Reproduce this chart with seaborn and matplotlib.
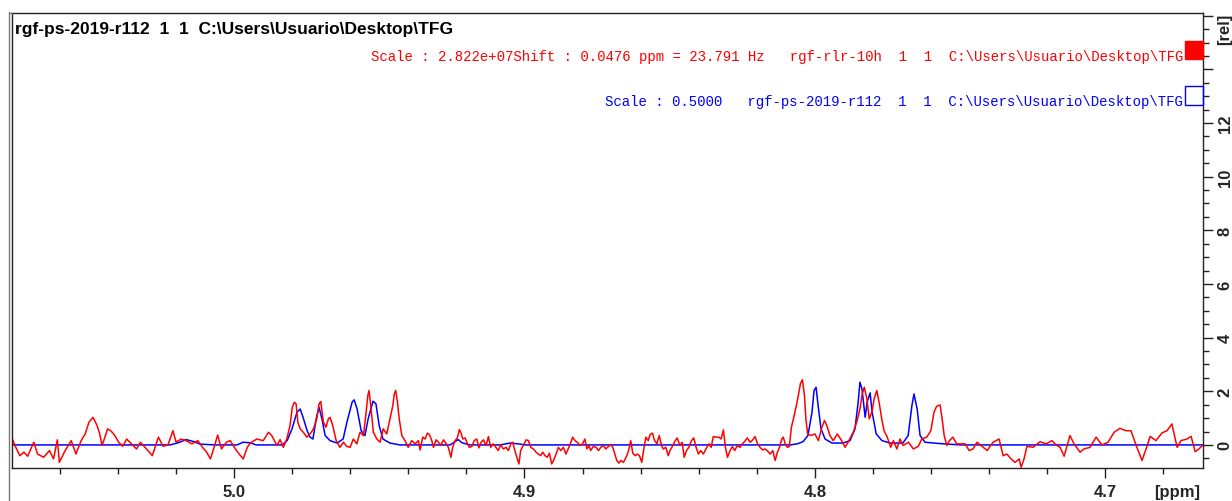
import numpy as np
import matplotlib
matplotlib.use("Agg")
import matplotlib.pyplot as plt
from matplotlib.lines import Line2D
from matplotlib.patches import Rectangle
import seaborn as sns

# ---- spectrum data (chemical shift in ppm, relative intensity) ----
# red trace, 5.08 -> 4.94 ppm
red_ppm_a = [
    5.0764, 5.0751, 5.0737, 5.0723, 5.0710, 5.0689, 5.0676, 5.0655, 5.0635, 5.0621,
    5.0608, 5.0601, 5.0581, 5.0560, 5.0544, 5.0526, 5.0512, 5.0499, 5.0485, 5.0471,
    5.0462, 5.0454, 5.0444, 5.0435, 5.0424, 5.0410, 5.0397, 5.0383, 5.0369, 5.0353,
    5.0335, 5.0322, 5.0301, 5.0281, 5.0260, 5.0244, 5.0227, 5.0210, 5.0199, 5.0182,
    5.0165, 5.0145, 5.0124, 5.0108, 5.0094, 5.0081, 5.0070, 5.0056, 5.0043, 5.0026,
    5.0013, 4.9995, 4.9982, 4.9968, 4.9954,
    4.9944, 4.9921, 4.9899, 4.9881, 4.9870, 4.9852, 4.9841, 4.9830, 4.9818, 4.9807,
    4.9799, 4.9792, 4.9786, 4.9780, 4.9772, 4.9761, 4.9749, 4.9738, 4.9726, 4.9715,
    4.9707, 4.9701, 4.9692, 4.9683, 4.9675, 4.9669, 4.9660, 4.9648, 4.9635, 4.9623,
    4.9612, 4.9600, 4.9589, 4.9577, 4.9566, 4.9554, 4.9545, 4.9539, 4.9535, 4.9529,
    4.9520, 4.9508, 4.9497, 4.9486, 4.9474, 4.9463, 4.9453, 4.9448, 4.9443, 4.9437,
    4.9431, 4.9422, 4.9411, 4.9400, 4.9388, 4.9376, 4.9365,
]
red_int_a = [
    0.25, -0.09, -0.40, -0.27, -0.42, 0.10, -0.34, -0.46, -0.21, -0.52,
    0.19, -0.65, -0.21, 0.16, -0.34, 0.16, 0.41, 0.85, 1.03, 0.72,
    0.41, -0.02, 0.29, 0.60, 0.53, 0.35, 0.10, -0.05, 0.22, 0.04,
    -0.15, 0.10, -0.15, -0.40, 0.29, -0.05, 0.00, 0.53, 0.10, 0.22,
    0.16, 0.04, 0.16, -0.09, -0.27, -0.52, -0.15, 0.37, -0.15, 0.10,
    0.16, -0.15, -0.34, -0.52, -0.09,
    0.07, 0.22, 0.16, 0.47, 0.35, -0.02, 0.20, -0.09, 0.22, 0.72,
    1.41, 1.59, 1.53, 0.85, 0.60, 0.47, 0.29, 0.41, 0.60, 0.97,
    1.53, 1.62, 0.85, 0.66, 0.97, 1.03, 0.72, 0.16, -0.09, 0.10,
    -0.05, -0.09, 0.22, 0.04, 0.47, 0.35, 1.22, 1.84, 2.03, 1.47,
    0.47, 0.22, 0.10, 0.60, 0.41, 0.97, 1.47, 1.90, 2.03, 1.59,
    0.97, 0.35, 0.16, -0.09, 0.16, 0.04, 0.16,
]

# red trace, 4.94 -> 4.81 ppm (flat noisy stretch)
red_ppm_b = [
    4.9359, 4.9350, 4.9342, 4.9334, 4.9327, 4.9319, 4.9313, 4.9304, 4.9296, 4.9288,
    4.9279, 4.9270, 4.9262, 4.9253, 4.9247, 4.9239, 4.9231, 4.9224, 4.9219, 4.9212,
    4.9204, 4.9196, 4.9190, 4.9181, 4.9173, 4.9164, 4.9157, 4.9149, 4.9141, 4.9132,
    4.9124, 4.9116, 4.9107, 4.9098, 4.9090, 4.9081, 4.9073, 4.9063, 4.9055, 4.9047,
    4.9040, 4.9033, 4.9026, 4.9019, 4.9013, 4.9004, 4.8994, 4.8986, 4.8978, 4.8969,
    4.8960, 4.8952, 4.8944, 4.8937, 4.8929, 4.8921, 4.8914, 4.8906, 4.8900, 4.8891,
    4.8883, 4.8875, 4.8866, 4.8857, 4.8847, 4.8840, 4.8834, 4.8826, 4.8818, 4.8808,
    4.8800, 4.8792, 4.8785, 4.8778, 4.8772, 4.8763, 4.8753, 4.8745, 4.8737, 4.8728,
    4.8720, 4.8711, 4.8703, 4.8696, 4.8689, 4.8682, 4.8675, 4.8668, 4.8659, 4.8650,
    4.8642, 4.8634, 4.8627, 4.8619, 4.8611, 4.8604, 4.8596, 4.8590, 4.8582, 4.8574,
    4.8567, 4.8559, 4.8553, 4.8544, 4.8536, 4.8528, 4.8522, 4.8513, 4.8505, 4.8499,
    4.8491, 4.8482, 4.8474, 4.8465, 4.8457, 4.8450, 4.8442, 4.8434, 4.8425, 4.8417,
    4.8409, 4.8401, 4.8393, 4.8384, 4.8375, 4.8365, 4.8357, 4.8350, 4.8340, 4.8331,
    4.8323, 4.8315, 4.8308, 4.8301, 4.8292, 4.8284, 4.8276, 4.8267, 4.8258, 4.8250,
    4.8241, 4.8233, 4.8223, 4.8214, 4.8206, 4.8198, 4.8189, 4.8180, 4.8172, 4.8164,
    4.8154, 4.8145, 4.8137, 4.8129, 4.8122, 4.8114, 4.8109, 4.8102, 4.8095, 4.8088,
    4.8081,
]
red_int_b = [
    -0.19, 0.29, 0.22, 0.44, 0.39, 0.16, -0.09, 0.19, 0.10, -0.02,
    0.19, 0.06, -0.09, -0.46, -0.09, 0.16, 0.26, 0.57, 0.47, 0.22,
    0.26, 0.04, -0.09, -0.06, 0.16, 0.22, -0.11, 0.10, 0.19, -0.02,
    0.31, -0.09, 0.04, -0.09, -0.21, 0.01, -0.15, -0.09, -0.21, 0.04,
    0.10, -0.21, -0.46, -0.71, -0.21, -0.02, 0.19, 0.16, -0.09, -0.15,
    -0.27, -0.34, -0.40, -0.27, -0.40, -0.46, -0.31, -0.71, -0.58, -0.34,
    -0.09, -0.21, -0.09, -0.34, -0.09, 0.10, 0.29, 0.16, 0.10, -0.02,
    0.04, 0.22, -0.15, -0.02, -0.21, -0.06, -0.09, -0.21, -0.09, -0.02,
    -0.15, -0.06, 0.01, -0.09, -0.34, -0.58, -0.68, -0.58, -0.65, -0.46,
    -0.24, 0.16, -0.31, -0.40, -0.34, -0.40, -0.65, -0.21, 0.29, 0.16,
    0.39, 0.44, 0.19, 0.04, 0.35, -0.02, -0.15, -0.09, -0.40, -0.21,
    -0.06, 0.14, 0.26, -0.02, 0.10, -0.46, -0.21, -0.09, 0.16, 0.26,
    -0.09, -0.34, -0.21, -0.34, -0.15, 0.04, -0.09, 0.31, 0.29, 0.29,
    0.22, 0.56, -0.09, -0.46, -0.21, -0.06, -0.21, -0.02, -0.09, 0.04,
    0.14, 0.26, 0.10, 0.19, 0.31, 0.06, -0.09, -0.19, -0.15, -0.21,
    -0.34, -0.21, -0.58, -0.27, -0.09, 0.22, 0.29, 0.04, -0.09, -0.06,
    0.66,
]

# red trace, 4.81 -> 4.67 ppm
red_ppm_c = [
    4.8074, 4.8065,
    4.8057, 4.8050, 4.8043, 4.8036, 4.8031, 4.8025, 4.8014, 4.8000, 4.7988, 4.7976,
    4.7967, 4.7959, 4.7948, 4.7937, 4.7923, 4.7908, 4.7896, 4.7885, 4.7868, 4.7856,
    4.7845, 4.7837, 4.7830, 4.7821, 4.7813, 4.7804, 4.7796, 4.7787, 4.7779, 4.7770,
    4.7762, 4.7751, 4.7739, 4.7730, 4.7718, 4.7707, 4.7696, 4.7678, 4.7661, 4.7644,
    4.7632, 4.7615, 4.7601, 4.7590, 4.7581, 4.7569, 4.7562, 4.7555, 4.7546, 4.7537,
    4.7525, 4.7512,
    4.7483, 4.7469, 4.7456, 4.7442, 4.7428, 4.7407, 4.7387, 4.7366, 4.7352, 4.7339,
    4.7325, 4.7311, 4.7297, 4.7290, 4.7280, 4.7270, 4.7249, 4.7225, 4.7204, 4.7184,
    4.7170, 4.7156, 4.7142, 4.7122, 4.7108, 4.7087, 4.7074, 4.7053, 4.7032, 4.7012,
    4.6991, 4.6970, 4.6950, 4.6929, 4.6912, 4.6894, 4.6874, 4.6860, 4.6846, 4.6826,
    4.6805, 4.6788, 4.6771, 4.6753, 4.6740, 4.6719, 4.6705, 4.6691, 4.6678, 4.6664,
]
red_int_c = [
    0.97, 1.41,
    1.84, 2.28, 2.43, 1.84, 0.97, 0.41, 0.35, 0.41, 0.16, 0.66,
    0.91, 0.72, 0.35, 0.16, 0.41, 0.16, -0.09, 0.12, 0.47, 0.85,
    1.34, 1.90, 2.15, 1.72, 0.97, 1.22, 1.72, 2.03, 1.59, 0.97,
    0.53, 0.29, -0.09, 0.16, -0.15, 0.22, -0.02, 0.10, -0.15, -0.05,
    0.22, 0.29, 0.53, 1.22, 1.44, 1.49, 0.97, 0.35, -0.02, 0.16,
    0.29, 0.04,
    0.04, -0.21, -0.15, 0.10, -0.02, -0.21, 0.10, 0.22, -0.40, -0.34,
    -0.52, -0.65, -0.52, -0.83, -0.52, -0.05, -0.09, 0.12, 0.04, 0.16,
    0.00, -0.09, -0.42, 0.35, 0.04, -0.27, -0.15, -0.09, 0.29, 0.00,
    0.10, 0.47, 0.62, 0.53, 0.53, -0.02, -0.58, -0.15, 0.32, 0.16,
    0.45, 0.53, 0.78, -0.09, 0.16, 0.22, 0.32, -0.25, -0.15, 0.00,
]

red_ppm = red_ppm_a + red_ppm_b + red_ppm_c
red_int = red_int_a + red_int_b + red_int_c

# blue trace
blue_ppm = [
    5.0764, 5.0220, 5.0192, 5.0165, 5.0137, 5.0117, 5.0065, 4.9989, 4.9969, 4.9944,
    4.9924, 4.9834, 4.9817, 4.9800, 4.9783, 4.9772, 4.9762, 4.9748, 4.9738, 4.9728,
    4.9717, 4.9707, 4.9697, 4.9686, 4.9669, 4.9645, 4.9624, 4.9611, 4.9593, 4.9586,
    4.9576, 4.9562, 4.9549, 4.9538, 4.9521, 4.9511, 4.9500, 4.9487, 4.9463, 4.9428,
    4.9256, 4.9239, 4.9228, 4.9215, 4.9187, 4.9084, 4.9049, 4.9022, 4.8998,
    4.8086, 4.8061, 4.8041, 4.8024, 4.8010, 4.8003, 4.7996, 4.7989, 4.7979, 4.7965,
    4.7941, 4.7903, 4.7879, 4.7862, 4.7851, 4.7845, 4.7838, 4.7827, 4.7820, 4.7810,
    4.7803, 4.7789, 4.7769, 4.7741, 4.7697, 4.7679, 4.7666, 4.7659, 4.7648, 4.7638,
    4.7621, 4.7569, 4.7500, 4.6664,
]
blue_int = [
    0.00, 0.00, 0.08, 0.20, 0.12, 0.03, 0.00, 0.00, 0.10, 0.08,
    0.00, 0.00, 0.16, 0.60, 1.22, 1.34, 1.03, 0.53, 0.29, 0.22,
    0.97, 1.40, 0.97, 0.35, 0.16, 0.07, 0.22, 0.85, 1.60, 1.68,
    1.34, 0.53, 0.35, 0.97, 1.63, 1.53, 0.72, 0.22, 0.07, 0.00,
    0.00, 0.12, 0.20, 0.08, 0.00, 0.00, 0.07, 0.04, 0.00,
    0.00, 0.04, 0.12, 0.35, 1.22, 2.03, 2.15, 1.47, 0.60, 0.22,
    0.07, 0.07, 0.16, 0.60, 1.60, 2.34, 2.09, 1.03, 1.60, 1.94,
    1.22, 0.41, 0.16, 0.07, 0.07, 0.35, 1.47, 1.90, 1.34, 0.35,
    0.10, 0.05, 0.00, 0.00,
]

x_major = [5.0, 4.9, 4.8, 4.7]
x_labels = ["5.0", "4.9", "4.8", "4.7"]
y_major = [0, 2, 4, 6, 8, 10, 12, 14, 16]
y_labels = ["0", "2", "4", "6", "8", "10", "12", "", ""]

title_text = "rgf-ps-2019-r112  1  1  C:\\Users\\Usuario\\Desktop\\TFG"
red_text = ("Scale : 2.822e+07Shift : 0.0476 ppm = 23.791 Hz   "
            "rgf-rlr-10h  1  1  C:\\Users\\Usuario\\Desktop\\TFG")
blue_text = "Scale : 0.5000   rgf-ps-2019-r112  1  1  C:\\Users\\Usuario\\Desktop\\TFG"

RED = "#FF0000"
BLUE = "#0000FF"

# ---- figure ----
sns.set_theme(style="white")
plt.rcParams["font.family"] = ["Liberation Sans", "DejaVu Sans"]

W, H = 1232, 502
fig = plt.figure(figsize=(W / 100, H / 100), dpi=100)
fig.patch.set_facecolor("white")


def fx(px):
    return px / W


def fy(py):
    return 1 - py / H


ax = fig.add_axes([fx(12), fy(469), fx(1203) - fx(12), fy(14) - fy(469)])
ax.set_facecolor("white")

sns.lineplot(x=blue_ppm, y=blue_int, ax=ax, color=BLUE, linewidth=1.1,
             sort=False, estimator=None)
sns.lineplot(x=red_ppm, y=red_int, ax=ax, color=RED, linewidth=1.1,
             sort=False, estimator=None)

ax.set_xlim(5.0764, 4.6664)
ax.set_ylim(-0.86, 16.1)
ax.set_xlabel("")
ax.set_ylabel("")

for s in ax.spines.values():
    s.set_color("#222222")
    s.set_linewidth(1.0)

# x axis: ppm, decreasing to the right
ax.set_xticks(x_major)
ax.set_xticklabels(x_labels, fontsize=12, fontweight="bold")
ax.set_xticks(np.arange(4.68, 5.075, 0.02), minor=True)
ax.tick_params(axis="x", which="major", direction="out", length=7.5, width=1,
               color="#222222", pad=4, bottom=True)
ax.tick_params(axis="x", which="minor", direction="out", length=4, width=1,
               color="#222222", bottom=True)

# y axis on the right
ax.yaxis.tick_right()
ax.set_yticks(y_major)
ax.set_yticklabels(y_labels, fontsize=12, fontweight="bold", rotation=90,
                   va="center")
ax.set_yticks(np.arange(-0.5, 16.1, 0.5), minor=True)
ax.tick_params(axis="y", which="major", direction="out", length=7.5, width=1,
               color="#222222", pad=3, right=True, left=False)
ax.tick_params(axis="y", which="minor", direction="out", length=4.5, width=1,
               color="#222222", right=True, left=False)

# outer frame line on the left
fig.add_artist(Line2D([fx(8.5), fx(8.5)], [fy(13), 0], color="#777777",
                      linewidth=1.0))
fig.add_artist(Line2D([fx(8.5), fx(12)], [fy(13.5), fy(13.5)], color="#777777",
                      linewidth=1.0))

# header and overlay labels
mono = ["Liberation Mono", "DejaVu Sans Mono"]
fig.text(fx(15), fy(30), title_text, fontsize=12.5, fontweight="bold",
         ha="left", va="center", color="black")
fig.text(fx(1183), fy(57), red_text, fontsize=10.05, color=RED,
         family=mono, ha="right", va="center")
fig.text(fx(1183), fy(102), blue_text, fontsize=10.05, color=BLUE,
         family=mono, ha="right", va="center")

fig.add_artist(Rectangle((fx(1185), fy(60)), fx(1203) - fx(1185), fy(42) - fy(60),
                         facecolor=RED, edgecolor=RED, linewidth=1.0))
fig.add_artist(Rectangle((fx(1185), fy(106)), fx(1203) - fx(1185), fy(87) - fy(106),
                         facecolor="none", edgecolor=BLUE, linewidth=1.0))

# axis unit labels
fig.text(fx(1177), fy(493), "[ppm]", fontsize=12, fontweight="bold",
         ha="center", va="center")
fig.text(fx(1225), fy(29), "[rel]", fontsize=12, fontweight="bold",
         ha="center", va="center", rotation=90)

fig.savefig("out.png", dpi=100, facecolor="white")
